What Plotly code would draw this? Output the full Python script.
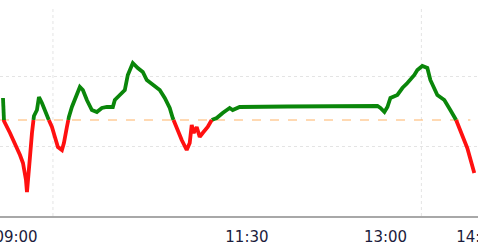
import pandas as pd
import plotly.graph_objects as go

# ---- data ----
times = [
    "08:51:34", "08:52:13", "08:56:07", "08:59:21", "09:02:36", "09:04:32", "09:06:29", "09:07:08",
    "09:07:47", "09:09:05", "09:10:23", "09:11:40", "09:13:37", "09:14:55", "09:16:52", "09:18:49",
    "09:20:45", "09:23:21", "09:25:17", "09:27:14", "09:29:50", "09:31:08", "09:33:04", "09:34:22",
    "09:36:19", "09:39:34", "09:41:30", "09:43:27", "09:46:02", "09:49:17", "09:52:32", "09:55:46",
    "09:59:01", "10:02:55", "10:04:12", "10:07:26", "10:10:41", "10:12:38", "10:15:53", "10:19:07",
    "10:22:22", "10:24:57", "10:28:51", "10:33:23", "10:36:38", "10:39:52", "10:41:49", "10:44:25",
    "10:47:39", "10:50:53", "10:52:50", "10:54:08", "10:55:26", "10:57:23", "10:59:20", "11:01:16",
    "11:04:31", "11:07:07", "11:10:21", "11:14:14", "11:18:47", "11:20:44", "11:25:16", "11:56:23",
    "12:54:46", "12:56:43", "12:59:18", "13:01:15", "13:03:11", "13:07:44", "13:10:58", "13:14:13",
    "13:18:45", "13:20:42", "13:23:56", "13:27:11", "13:29:08", "13:33:40", "13:38:13", "13:42:06",
    "13:45:20", "13:48:35", "13:53:08", "13:57:40",
]
change_pct = [
    0.367, -0.017, -0.217, -0.383, -0.583, -0.717, -1.000, -1.200,
    -1.050, -0.617, -0.217, 0.067, 0.167, 0.383, 0.283, 0.167,
    0.033, -0.117, -0.283, -0.450, -0.500, -0.383, -0.117, 0.050,
    0.217, 0.450, 0.550, 0.500, 0.333, 0.167, 0.133, 0.200,
    0.217, 0.217, 0.333, 0.417, 0.500, 0.750, 0.950, 0.867,
    0.800, 0.667, 0.583, 0.500, 0.367, 0.200, 0.033, -0.133,
    -0.333, -0.500, -0.383, -0.083, -0.217, -0.117, -0.283, -0.217,
    -0.117, 0.000, 0.033, 0.117, 0.200, 0.167, 0.217, 0.225,
    0.233, 0.200, 0.133, 0.217, 0.367, 0.417, 0.533, 0.617,
    0.750, 0.833, 0.900, 0.867, 0.667, 0.417, 0.333, 0.167,
    0.033, -0.167, -0.467, -0.883,
]
baseline = 0.0
tick_times = ["09:00", "11:30", "13:00", "14:00"]
day = "2024-01-02 "

# ---- styling ----
GREEN = "#0a860a"
RED = "#ff1010"
TEXT = "#1c1c3c"

t = pd.to_datetime([day + s for s in times])
tn = t.astype("int64").to_numpy()

# split line into above/below baseline runs
runs = {"g": ([], []), "r": ([], [])}
def side(v):
    return "g" if v >= baseline else "r"

cur = side(change_pct[0])
rx, ry = [t[0]], [change_pct[0]]
for i in range(1, len(change_pct)):
    v = change_pct[i]
    s = side(v)
    if s == cur:
        rx.append(t[i]); ry.append(v)
    else:
        v0 = change_pct[i - 1]
        f = (baseline - v0) / (v - v0)
        tc = pd.Timestamp(int(tn[i - 1] + f * (tn[i] - tn[i - 1])))
        rx.append(tc); ry.append(baseline)
        runs[cur][0].extend(rx + [None]); runs[cur][1].extend(ry + [None])
        rx, ry = [tc, t[i]], [baseline, v]
        cur = s
runs[cur][0].extend(rx); runs[cur][1].extend(ry)

fig = go.Figure()
for key, col in (("g", GREEN), ("r", RED)):
    fig.add_trace(go.Scatter(
        x=runs[key][0], y=runs[key][1], mode="lines",
        line=dict(color=col, width=3.8), connectgaps=False,
        hoverinfo="skip", showlegend=False,
    ))

x_start = pd.Timestamp(day + "08:49:37")
x_end = pd.Timestamp(day + "14:00:05")
y_min, y_max = -1.6, 1.9
span = y_max - y_min
grid_y = [y_max - span / 3, y_max - 2 * span / 3]
grid_x = [pd.Timestamp(day + "09:24:00"), pd.Timestamp(day + "13:23:18")]

shapes = []
for gx in grid_x:
    shapes.append(dict(type="line", xref="x", yref="paper", x0=gx, x1=gx, y0=0, y1=1,
                       line=dict(color="#e4e4e4", width=1, dash="dot"), layer="below"))
shapes.append(dict(type="line", xref="paper", yref="y", x0=0, x1=0.984, y0=baseline, y1=baseline,
                   line=dict(color="#ffb366", width=1, dash="dash"), layer="below"))

fig.update_layout(
    template="none",
    width=478, height=249,
    margin=dict(l=0, r=0, t=6, b=33),
    paper_bgcolor="white", plot_bgcolor="white",
    shapes=shapes,
    xaxis=dict(
        range=[x_start, x_end], type="date",
        tickvals=[pd.Timestamp(day + s) for s in tick_times], ticktext=tick_times,
        showgrid=False, zeroline=False, automargin=False,
        showline=True, linecolor="#a8a8a8", linewidth=2,
        ticks="", ticklabeloverflow="allow", ticklabelstandoff=6,
        tickfont=dict(family="DejaVu Sans", size=15, color=TEXT),
    ),
    yaxis=dict(
        range=[y_min, y_max], tickvals=grid_y, showticklabels=False,
        showgrid=True, gridcolor="#e4e4e4", griddash="dot", gridwidth=1,
        zeroline=False, automargin=False, showline=False, ticks="",
    ),
)

fig.write_html(
    "out.html",
    config={"displayModeBar": False, "staticPlot": True},
    post_script="document.body.style.margin='0';document.body.style.overflow='hidden';",
)
